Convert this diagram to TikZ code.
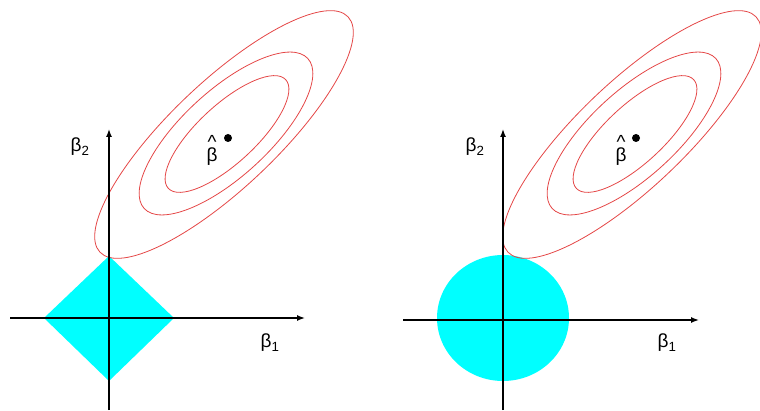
\documentclass[tikz,border=0pt]{standalone}
\usepackage{fontspec}
\setmainfont{Liberation Sans}
\usetikzlibrary{arrows.meta}
\definecolor{contourred}{RGB}{228,70,70}
\definecolor{regioncyan}{RGB}{0,255,255}
\begin{document}
\begin{tikzpicture}[x=1pt,y=1pt,
  axis/.style={line width=1.4pt,-{Latex[length=8pt,width=6pt]}},
  contour/.style={draw=contourred,line width=0.8pt},
  region/.style={fill=regioncyan},
  lbl/.style={font=\fontsize{19}{20}\selectfont,inner sep=0pt},
  hatlbl/.style={font=\fontsize{19}{20}\selectfont,inner sep=0pt,align=center},
  dotmark/.style={circle,fill=black,inner sep=0pt,minimum size=8pt}]
\useasboundingbox (0,0) rectangle (760,410);
% ---------- left panel (lasso) ----------
\coordinate (L-o) at (109,92);
\coordinate (L-xl) at (10,92);
\coordinate (L-xr) at (305,92);
\coordinate (L-yb) at (109,0);
\coordinate (L-yt) at (109,281);
\coordinate (L-dl) at (44,92);
\coordinate (L-dt) at (109,154);
\coordinate (L-dr) at (174,92);
\coordinate (L-db) at (109,29);
\fill[region] (L-dl) -- (L-dt) -- (L-dr) -- (L-db) -- cycle;
\draw[contour,shift={(224,275.5)},rotate=43.5] (0,0) ellipse [x radius=171pt,y radius=53pt];
\draw[contour,shift={(226,276.5)},rotate=42.5] (0,0) ellipse [x radius=111pt,y radius=43pt];
\draw[contour,shift={(227,276)},rotate=42.8] (0,0) ellipse [x radius=80pt,y radius=29pt];
\draw[axis] (L-xl) -- (L-xr);
\draw[axis] (L-yb) -- (L-yt);
\node[dotmark] (L-dot) at (228,272) {};
\node[hatlbl] (L-bhat) at (212,260) {\^{}\\[-7pt]β};
\node[lbl] (L-b2) at (80,263) {β\textsubscript{2}};
\node[lbl] (L-b1) at (270,67) {β\textsubscript{1}};
% ---------- right panel (ridge) ----------
\coordinate (R-o) at (503,92);
\coordinate (R-xl) at (403,90);
\coordinate (R-xr) at (699,90);
\coordinate (R-yb) at (503,0);
\coordinate (R-yt) at (503,281);
\fill[region] (R-o) ellipse [x radius=66pt,y radius=63pt];
\draw[contour,shift={(632,275.5)},rotate=43.5] (0,0) ellipse [x radius=171pt,y radius=53pt];
\draw[contour,shift={(634,276.5)},rotate=42.5] (0,0) ellipse [x radius=111pt,y radius=43pt];
\draw[contour,shift={(635,276)},rotate=42.8] (0,0) ellipse [x radius=80pt,y radius=29pt];
\draw[axis] (R-xl) -- (R-xr);
\draw[axis] (R-yb) -- (R-yt);
\node[dotmark] (R-dot) at (636,272) {};
\node[hatlbl] (R-bhat) at (621,260) {\^{}\\[-7pt]β};
\node[lbl] (R-b2) at (475,263) {β\textsubscript{2}};
\node[lbl] (R-b1) at (667,67) {β\textsubscript{1}};
\end{tikzpicture}
\end{document}
